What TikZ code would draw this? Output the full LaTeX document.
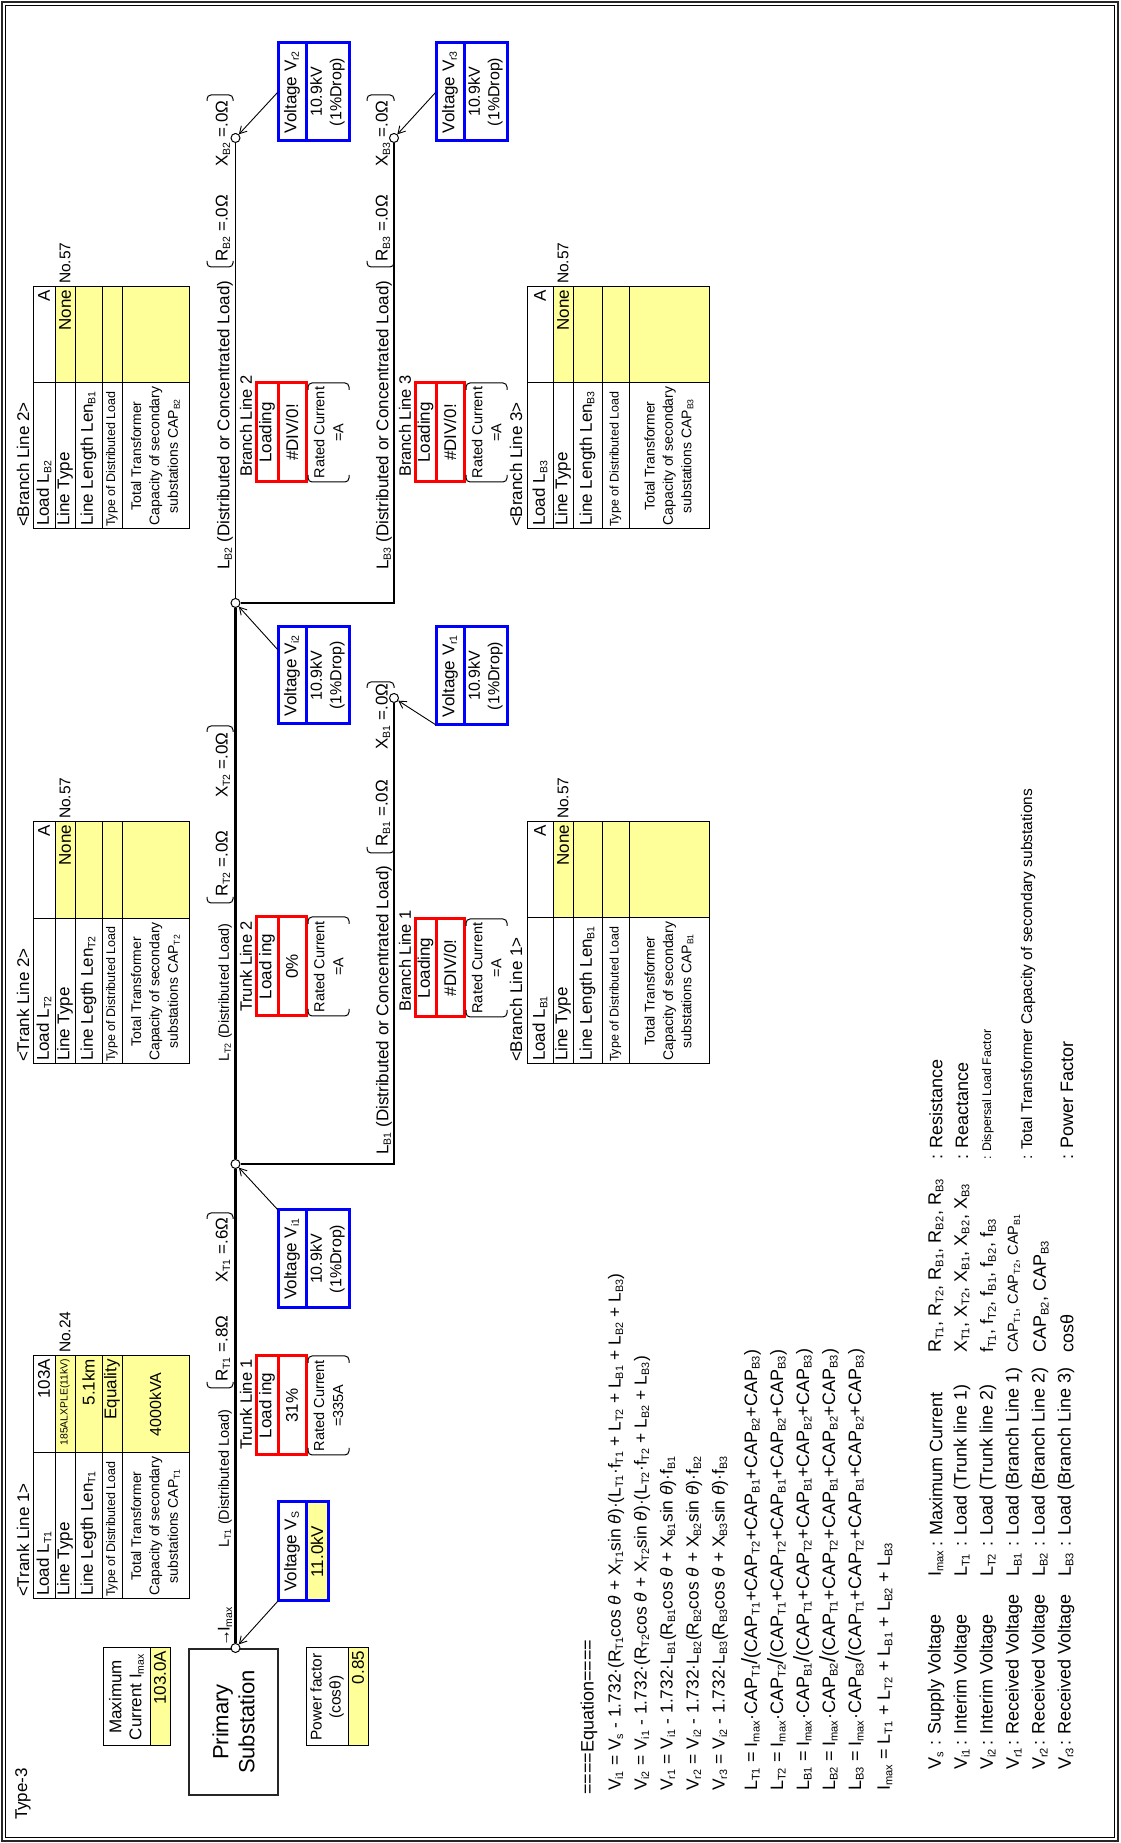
\documentclass[tikz,border=0pt]{standalone}
\usepackage{fontspec}
\usepackage{graphicx}
\setmainfont{Liberation Sans}
\usetikzlibrary{arrows.meta,calc}
\definecolor{yel}{RGB}{255,255,153}
\newcommand\sbs[1]{\textsubscript{\scalebox{0.88}{#1}}}
\newcommand\tht{\textit{θ}}
\newcommand\slsh{{\fontsize{22}{22}\selectfont /}}
\newcommand\den{(CAP\sbs{T1}+CAP\sbs{T2}+CAP\sbs{B1}+CAP\sbs{B2}+CAP\sbs{B3})}
\newcounter{tn}
\newcommand\tx[3][]{\stepcounter{tn}\node[txt,#1] (t\thetn) at (#2) {#3};}
\newcommand\cel[7][]{\node[cel,#1,minimum width={#5-#3},minimum height={#6-#4}] (#2) at (#3,-#4) {#7};}
\newcommand\tabl[4]{%
 \cel{#1la}{#2}{\rwA}{#3}{\rwB}{}%
 \cel{#1lb}{#2}{\rwB}{#3}{\rwC}{}%
 \cel{#1lc}{#2}{\rwC}{#3}{\rwD}{}%
 \cel{#1ld}{#2}{\rwD}{#3}{\rwE}{}%
 \cel{#1le}{#2}{\rwE}{#3}{\rwF}{}%
 \cel{#1va}{#3}{\rwA}{#4}{\rwB}{}%
 \cel[fill=yel]{#1vb}{#3}{\rwB}{#4}{\rwC}{}%
 \cel[fill=yel]{#1vc}{#3}{\rwC}{#4}{\rwD}{}%
 \cel[fill=yel]{#1vd}{#3}{\rwD}{#4}{\rwE}{}%
 \cel[fill=yel]{#1ve}{#3}{\rwE}{#4}{\rwF}{}%
}
\newcommand\tlabels[6]{%
 \tx{$(#1la.west)+(3,0)$}{#2}%
 \tx{$(#1lb.west)+(3,0)$}{Line Type}%
 \tx{$(#1lc.west)+(3,0)$}{#3}%
 \tx[fG]{$(#1ld.west)+(2,0)$}{Type of Distributed Load}%
 \tx[fF,anchor=center,align=center]{#1le.center}{Total Transformer\\Capacity of secondary\\substations CAP\sbs{#4}}%
 \tx[anchor=east]{$(#1va.east)+(-3,0)$}{#5}%
 \tx[anchor=east]{$(#1vb.east)+(-3,0)$}{#6}%
}
\newcommand\ratedc[5]{%
 \draw[brk] (#1+7,-#3) -- (#1,-#3) -- (#1,-#4) -- (#1+7,-#4);
 \draw[brk] (#2-7,-#3) -- (#2,-#3) -- (#2,-#4) -- (#2-7,-#4);
 \tx[fE,anchor=center,align=center]{{(#1+#2)/2},{-(#3+#4)/2}}{Rated Current\\#5}}
\newcommand\rx[9]{%
 \draw[brk] (#1+6,-#5) -- (#1,-#5) -- (#1,-#6) -- (#1+6,-#6);
 \draw[brk] (#2-6,-#5) -- (#2,-#5) -- (#2,-#6) -- (#2-6,-#6);
 \tx{#3,-#7}{#8}\tx{#4,-#7}{#9}}
\begin{document}
\begin{tikzpicture}[x=1pt,y=1pt,
  fA/.style={font=\fontsize{22}{26}\selectfont},
  fB/.style={font=\fontsize{18}{21}\selectfont},
  fQ/.style={font=\fontsize{17.4}{21}\selectfont},
  fC/.style={font=\fontsize{17}{20}\selectfont},
  fD/.style={font=\fontsize{16.5}{19.5}\selectfont},
  fV/.style={font=\fontsize{16}{19.5}\selectfont},
  fE/.style={font=\fontsize{14.5}{19}\selectfont},
  fF/.style={font=\fontsize{14}{18.3}\selectfont},
  fG/.style={font=\fontsize{12.5}{15}\selectfont},
  fP/.style={font=\fontsize{15.5}{19}\selectfont},
  cel/.style={draw, line width=1pt, inner sep=0pt, outer sep=0pt, anchor=north west, align=center, fC},
  txt/.style={inner sep=0pt, outer sep=0pt, anchor=west, fC},
  redc/.style={draw=red, line width=3pt},
  bluc/.style={draw=blue, line width=3pt},
  jn/.style={circle, draw, fill=white, line width=1pt, minimum size=9pt, inner sep=0pt},
  trunk/.style={line width=3.6pt},
  brl/.style={line width=1.1pt},
  varrow/.style={line width=0.9pt, -{Straight Barb[length=7pt,width=8pt]}},
  brk/.style={line width=1pt, rounded corners=4pt},
]
\useasboundingbox (0,0) rectangle (1120,1843);
\fill[white] (0,0) rectangle (1120,1843);
\begin{scope}[rotate=90, transform shape]
% frame
\draw[line width=2.2pt, draw=black!85] (2,-2) rectangle (1841,-1118);
\draw[line width=0.8pt] (5.5,-5.5) rectangle (1837.5,-1114.5);
\tx{23,-23}{Type-3}
% primary substation etc.
\cel[line width=1.8pt, draw=black!85, fA]{ps}{48}{189}{194}{278}{Primary\\Substation}
\cel{mca}{97}{103}{195}{150}{Maximum\\Current I\sbs{max}}
\cel[fill=yel]{mcb}{97}{150}{195}{170}{}
\tx[anchor=east]{$(mcb.east)+(-3,0)$}{103.0A}
\cel[fP]{pfa}{97}{306}{195}{348}{Power factor\\(cosθ)}
\cel[fill=yel]{pfb}{97}{348}{195}{368}{}
\tx[anchor=east]{$(pfb.east)+(-3,0)$}{0.85}
% tables
\def\rwA{33}\def\rwB{55}\def\rwC{75}\def\rwD{102}\def\rwE{122}\def\rwF{189}
\tabl{ta}{244}{390}{487}
\tabl{tb}{779}{924}{1021}
\tabl{bb}{1314}{1460}{1556}
\def\rwA{527}\def\rwB{553}\def\rwC{573}\def\rwD{602}\def\rwE{629}\def\rwF{709}
\tabl{ba}{779}{925}{1021}
\tabl{bc}{1314}{1460}{1556}
\tlabels{ta}{Load L\sbs{T1}}{Line Legth Len\sbs{T1}}{T1}{103A}{{\fontsize{10.4}{12}\selectfont 185ALXPLE(11kV)}}
\tx[anchor=east]{$(tavc.east)+(-3,0)$}{5.1km}
\tx[anchor=east]{$(tavd.east)+(-3,0)$}{Equality}
\tx[fV,anchor=center]{tave.center}{4000kVA}
\tlabels{tb}{Load L\sbs{T2}}{Line Legth Len\sbs{T2}}{T2}{A}{None}
\tlabels{ba}{Load L\sbs{B1}}{Line Length Len\sbs{B1}}{B1}{A}{None}
\tlabels{bb}{Load L\sbs{B2}}{Line Length Len\sbs{B1}}{B2}{A}{None}
\tlabels{bc}{Load L\sbs{B3}}{Line Length Len\sbs{B3}}{B3}{A}{None}
\tx{246,-23}{<Trank Line 1>}
\tx{781,-23}{<Trank Line 2>}
\tx{781,-516}{<Branch Line 1>}
\tx{1316,-23}{<Branch Line 2>}
\tx{1316,-516}{<Branch Line 3>}
\tx[fP]{$(tavb.east)+(3,0)$}{No.24}
\tx[fP]{$(tbvb.east)+(3,0)$}{No.57}
\tx[fP]{$(bavb.east)+(3,0)$}{No.57}
\tx[fP]{$(bbvb.east)+(3,0)$}{No.57}
\tx[fP]{$(bcvb.east)+(3,0)$}{No.57}
% junctions and lines
\node[jn] (j0) at (195,-235.5) {};
\node[jn] (j1) at (679,-235.5) {};
\node[jn] (j2) at (1240,-235.5) {};
\node[jn] (e1) at (1145,-394) {};
\node[jn] (e2) at (1705,-235.5) {};
\node[jn] (e3) at (1705,-394) {};
\coordinate (c1) at (679,-394);
\coordinate (c3) at (1240,-394);
\draw[trunk] (j0) -- (j1) -- (j2);
\draw[brl] (j2) -- (e2);
\draw[brl] (j1) -- (c1) -- (e1);
\draw[brl] (j2) -- (c3) -- (e3);
% line labels
\tx{196,-225}{→\kern-2pt I\sbs{max}}
\tx[fE]{295,-225}{L\sbs{T1} (Distributed Load)}
\tx[fE]{781,-225}{L\sbs{T2} (Distributed Load)}
\tx{688,-384}{L\sbs{B1} (Distributed or Concentrated Load)}
\tx{1273,-225}{L\sbs{B2} (Distributed or Concentrated Load)}
\tx{1273,-384}{L\sbs{B3} (Distributed or Concentrated Load)}
\rx{455}{630}{461}{560}{207}{233}{223}{R\sbs{T1} =.8Ω}{X\sbs{T1} =.6Ω}
\rx{940}{1117}{946}{1045}{207}{233}{223}{R\sbs{T2} =.0Ω}{X\sbs{T2} =.0Ω}
\rx{990}{1161}{996}{1093}{367}{394}{383}{R\sbs{B1} =.0Ω}{X\sbs{B1} =.0Ω}
\rx{1576}{1748}{1581}{1676}{207}{233}{223}{R\sbs{B2} =.0Ω}{X\sbs{B2} =.0Ω}
\rx{1576}{1748}{1581}{1676}{367}{394}{383}{R\sbs{B3} =.0Ω}{X\sbs{B3} =.0Ω}
\tx[fD]{393,-246}{Trunk Line 1}
\tx[fD]{831,-246}{Trunk Line 2}
\tx[fD]{831,-405}{Branch Line 1}
\tx[fD]{1366,-246}{Branch Line 2}
\tx[fD]{1366,-405}{Branch Line 3}
% loading boxes
\cel[redc]{la1}{388}{256}{487}{278}{Load ing}
\cel[redc]{lb1}{388}{278}{487}{306}{31\%}
\cel[redc]{la2}{827}{256}{926}{278}{Load ing}
\cel[redc]{lb2}{827}{278}{926}{306}{0\%}
\cel[redc]{la3}{826}{415}{924}{436}{Loading}
\cel[redc]{lb3}{826}{436}{924}{464}{\#DIV/0!}
\cel[redc]{la4}{1361}{256}{1460}{278}{Loading}
\cel[redc]{lb4}{1361}{278}{1460}{306}{\#DIV/0!}
\cel[redc]{la5}{1361}{415}{1460}{436}{Loading}
\cel[redc]{lb5}{1361}{436}{1460}{464}{\#DIV/0!}
\ratedc{388}{487}{308}{349}{=335A}
\ratedc{827}{926}{308}{349}{=A}
\ratedc{826}{924}{466}{507}{=A}
\ratedc{1361}{1460}{308}{349}{=A}
\ratedc{1361}{1460}{466}{507}{=A}
% voltage boxes
\cel[bluc]{vst}{242}{278}{341}{306}{Voltage V\sbs{S}}
\cel[bluc,fill=yel]{vsb}{242}{306}{341}{328}{11.0kV}
\cel[bluc]{vi1t}{535}{278}{633}{306}{Voltage V\sbs{i1}}
\cel[bluc,fV]{vi1b}{535}{306}{633}{349}{10.9kV\\(1\%Drop)}
\cel[bluc]{vi2t}{1119}{278}{1216}{306}{Voltage V\sbs{i2}}
\cel[bluc,fV]{vi2b}{1119}{306}{1216}{349}{10.9kV\\(1\%Drop)}
\cel[bluc]{vr1t}{1118}{436}{1216}{464}{Voltage V\sbs{r1}}
\cel[bluc,fV]{vr1b}{1118}{464}{1216}{507}{10.9kV\\(1\%Drop)}
\cel[bluc]{vr2t}{1702}{278}{1800}{306}{Voltage V\sbs{r2}}
\cel[bluc,fV]{vr2b}{1702}{306}{1800}{349}{10.9kV\\(1\%Drop)}
\cel[bluc]{vr3t}{1702}{436}{1800}{464}{Voltage V\sbs{r3}}
\cel[bluc,fV]{vr3b}{1702}{464}{1800}{507}{10.9kV\\(1\%Drop)}
\draw[varrow] (vst.north west) -- (j0);
\draw[varrow] (vi1t.north east) -- (j1);
\draw[varrow] ($(vi2t.north east)+(-23,0)$) -- (j2);
\draw[varrow] (vr1t.north west) -- (e1);
\draw[varrow] (vr2t.north) -- (e2);
\draw[varrow] (vr3t.north) -- (e3);
% equations
\tx[fB]{48,-589}{====Equation====}
\tx[fQ]{52,-616}{V\sbs{i1} = V\sbs{s} - 1.732·(R\sbs{T1}cos \tht\ + X\sbs{T1}sin \tht)·(L\sbs{T1}·f\sbs{T1} + L\sbs{T2} + L\sbs{B1} + L\sbs{B2} + L\sbs{B3})}
\tx[fQ]{52,-642}{V\sbs{i2} = V\sbs{i1} - 1.732·(R\sbs{T2}cos \tht\ + X\sbs{T2}sin \tht)·(L\sbs{T2}·f\sbs{T2} + L\sbs{B2} + L\sbs{B3})}
\tx[fQ]{52,-668}{V\sbs{r1} = V\sbs{i1} - 1.732·L\sbs{B1}(R\sbs{B1}cos \tht\ + X\sbs{B1}sin \tht)·f\sbs{B1}}
\tx[fQ]{52,-694}{V\sbs{r2} = V\sbs{i2} - 1.732·L\sbs{B2}(R\sbs{B2}cos \tht\ + X\sbs{B2}sin \tht)·f\sbs{B2}}
\tx[fQ]{52,-720}{V\sbs{r3} = V\sbs{i2} - 1.732·L\sbs{B3}(R\sbs{B3}cos \tht\ + X\sbs{B3}sin \tht)·f\sbs{B3}}
\tx[fB]{52,-751}{L\sbs{T1} = I\sbs{max}·CAP\sbs{T1}\slsh\den}
\tx[fB]{52,-777}{L\sbs{T2} = I\sbs{max}·CAP\sbs{T2}\slsh\den}
\tx[fB]{52,-803}{L\sbs{B1} = I\sbs{max}·CAP\sbs{B1}\slsh\den}
\tx[fB]{52,-829}{L\sbs{B2} = I\sbs{max}·CAP\sbs{B2}\slsh\den}
\tx[fB]{52,-855}{L\sbs{B3} = I\sbs{max}·CAP\sbs{B3}\slsh\den}
\tx[fB]{52,-885}{I\sbs{max} = L\sbs{T1} + L\sbs{T2} + L\sbs{B1} + L\sbs{B2} + L\sbs{B3}}
% legend
\tx[fB]{73,-936}{V\sbs{s}}   \tx[fB]{97,-936}{: Supply Voltage}
\tx[fB]{73,-962}{V\sbs{i1}}  \tx[fB]{97,-962}{: Interim Voltage}
\tx[fB]{73,-988}{V\sbs{i2}}  \tx[fB]{97,-988}{: Interim Voltage}
\tx[fB]{73,-1014}{V\sbs{r1}} \tx[fB]{97,-1014}{: Received Voltage}
\tx[fB]{73,-1040}{V\sbs{r2}} \tx[fB]{97,-1040}{: Received Voltage}
\tx[fB]{73,-1066}{V\sbs{r3}} \tx[fB]{97,-1066}{: Received Voltage}
\tx[fB]{266,-936}{I\sbs{max}} \tx[fB]{296,-936}{: Maximum Current}
\tx[fB]{266,-962}{L\sbs{T1}}  \tx[fB]{296,-962}{: Load (Trunk line 1)}
\tx[fB]{266,-988}{L\sbs{T2}}  \tx[fB]{296,-988}{: Load (Trunk line 2)}
\tx[fB]{266,-1014}{L\sbs{B1}} \tx[fB]{296,-1014}{: Load (Branch Line 1)}
\tx[fB]{266,-1040}{L\sbs{B2}} \tx[fB]{296,-1040}{: Load (Branch Line 2)}
\tx[fB]{266,-1066}{L\sbs{B3}} \tx[fB]{296,-1066}{: Load (Branch Line 3)}
\tx[fB]{490,-936}{R\sbs{T1}, R\sbs{T2}, R\sbs{B1}, R\sbs{B2}, R\sbs{B3}}
\tx[fB]{490,-962}{X\sbs{T1}, X\sbs{T2}, X\sbs{B1}, X\sbs{B2}, X\sbs{B3}}
\tx[fB]{490,-988}{f\sbs{T1}, f\sbs{T2}, f\sbs{B1}, f\sbs{B2}, f\sbs{B3}}
\tx[fE]{490,-1014}{CAP\sbs{T1}, CAP\sbs{T2}, CAP\sbs{B1}}
\tx[fB]{490,-1041}{CAP\sbs{B2}, CAP\sbs{B3}}
\tx[fB]{490,-1067}{cosθ}
\tx[fB]{683,-936}{: Resistance}
\tx[fB]{683,-962}{: Reactance}
\tx[fG]{683,-988}{: Dispersal Load Factor}
\tx[fP]{683,-1028}{: Total Transformer Capacity of secondary substations}
\tx[fB]{683,-1067}{: Power Factor}
\end{scope}
\end{tikzpicture}
\end{document}
